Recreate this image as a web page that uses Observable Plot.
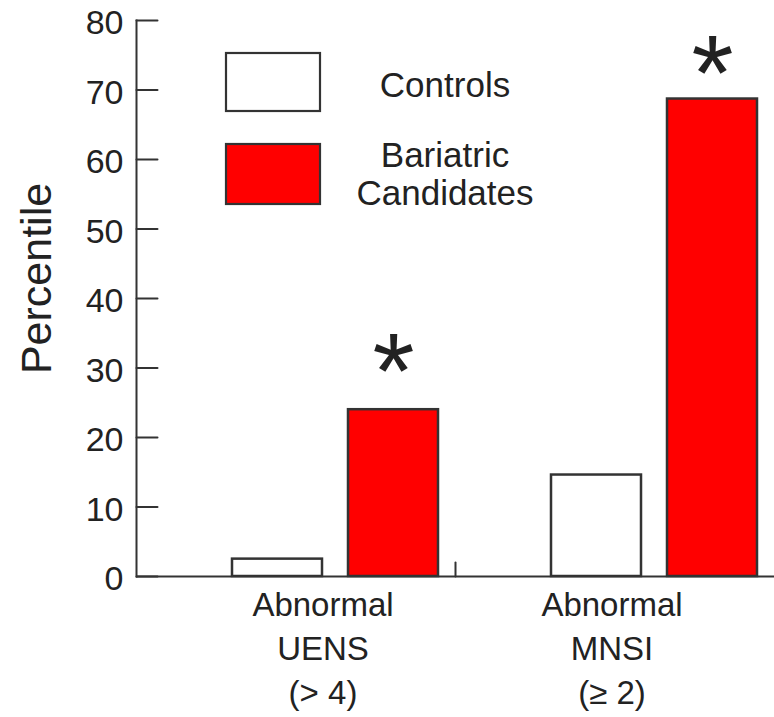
<!DOCTYPE html>
<html>
<head>
<meta charset="utf-8">
<script src="https://cdn.jsdelivr.net/npm/d3@7"></script>
<script src="https://cdn.jsdelivr.net/npm/@observablehq/plot@0.6"></script>
<style>
  html, body { margin: 0; padding: 0; background: #fff; }
  #chart { position: relative; width: 774px; height: 717px; }
</style>
</head>
<body>
<div id="chart"></div>
<script>
// ---- Data ----
const groups = ["UENS", "MNSI"];
const groupLabels = ["Abnormal\nUENS\n(> 4)", "Abnormal\nMNSI\n(\u2265 2)"];
const series = ["Controls", "Bariatric Candidates"];
const legendLabels = ["Controls", "Bariatric\nCandidates"];
const controls = [2.5, 14.6];
const bariatric = [24.0, 68.7];
const significant = [true, true];
const yTicks = [0, 10, 20, 30, 40, 50, 60, 70, 80];
const seriesColors = ["#ffffff", "#ff0000"];
const yLabel = "Percentile";

const data = groups.flatMap((g, i) => [
  {group: g, series: series[0], value: controls[i], star: false},
  {group: g, series: series[1], value: bariatric[i], star: significant[i]}
]);

const FONT = "'Liberation Sans', Arial, Helvetica, sans-serif";
const INK = "#222";
const LINE = "#333";

// plain line shape for vectors (no arrowhead)
const lineShape = {draw(context, l) { context.moveTo(0, 0); context.lineTo(0, -l); }};

const starOffsets = [-36, -24];

const plot = Plot.plot({
  width: 774,
  height: 717,
  marginTop: 20,
  marginBottom: 141,
  marginLeft: 136,
  marginRight: 0,
  style: {fontFamily: FONT, color: INK, background: "#fff", overflow: "visible"},
  fx: {domain: groups, paddingInner: 0, paddingOuter: 0, axis: null, label: null},
  x: {domain: series, paddingInner: 0.224, paddingOuter: 0.487, align: 0.85, axis: null, label: null},
  y: {domain: [0, 80], axis: null},
  color: {domain: series, range: seriesColors},
  marks: [
    Plot.barY(data, {fx: "group", x: "series", y: "value", fill: "series", stroke: LINE, strokeWidth: 2.5}),
    Plot.ruleY([0], {stroke: LINE, strokeWidth: 2.2}),
    // y axis line (left edge of the whole frame)
    Plot.frame({anchor: "left", facet: "super", stroke: LINE, strokeWidth: 2}),
    // divider tick between groups
    Plot.vector([0], {fx: () => groups[1], y: d => d, frameAnchor: "left", rotate: 0, length: 14, anchor: "start", shape: lineShape, stroke: LINE, strokeWidth: 2}),
    // significance asterisks
    ...groups.map((g, i) =>
      Plot.text(data.filter(d => d.star && d.group === g), {fx: "group", x: "series", y: "value", text: () => "*", fontSize: 108, lineAnchor: "middle", dy: starOffsets[i], fill: INK})
    ),
    // inward ticks
    Plot.vector(yTicks, {fx: () => groups[0], y: d => d, frameAnchor: "left", rotate: 90, length: 21, anchor: "start", shape: lineShape, stroke: LINE, strokeWidth: 2}),
    // tick labels
    Plot.axisY(yTicks, {anchor: "left", tickSize: 0, tickPadding: 13, fontSize: 34, fill: INK, dy: 3, label: null}),
    // y label
    Plot.text([yLabel], {fx: () => groups[0], frameAnchor: "left", text: d => d, rotate: -90, fontSize: 43, dx: -99, dy: -20, textAnchor: "middle", lineAnchor: "middle", fill: INK}),
    // category labels
    Plot.text([0], {fx: () => groups[0], frameAnchor: "bottom", text: () => groupLabels[0], fontSize: 33, lineHeight: 1.32, lineAnchor: "top", dy: 9, dx: 27, fill: INK}),
    Plot.text([1], {fx: () => groups[1], frameAnchor: "bottom", text: () => groupLabels[1], fontSize: 33, lineHeight: 1.32, lineAnchor: "top", dy: 9, dx: -3, fill: INK})
  ]
});

document.getElementById("chart").appendChild(plot);

// In-plot legend (top-left)
const svg = d3.select(plot);
const legend = svg.append("g").attr("font-family", FONT).attr("font-size", 35).attr("fill", INK);
const boxes = [{y: 53, h: 58}, {y: 144, h: 60}];
series.forEach((s, i) => {
  legend.append("rect")
    .attr("x", 226).attr("y", boxes[i].y)
    .attr("width", 94).attr("height", boxes[i].h)
    .attr("fill", seriesColors[i]).attr("stroke", LINE).attr("stroke-width", 2.2);
  const lines = legendLabels[i].split("\n");
  const baselines = i === 0 ? [97] : [167, 205];
  lines.forEach((t, j) => {
    legend.append("text")
      .attr("x", 445).attr("y", baselines[j])
      .attr("text-anchor", "middle")
      .text(t);
  });
});
</script>
</body>
</html>
